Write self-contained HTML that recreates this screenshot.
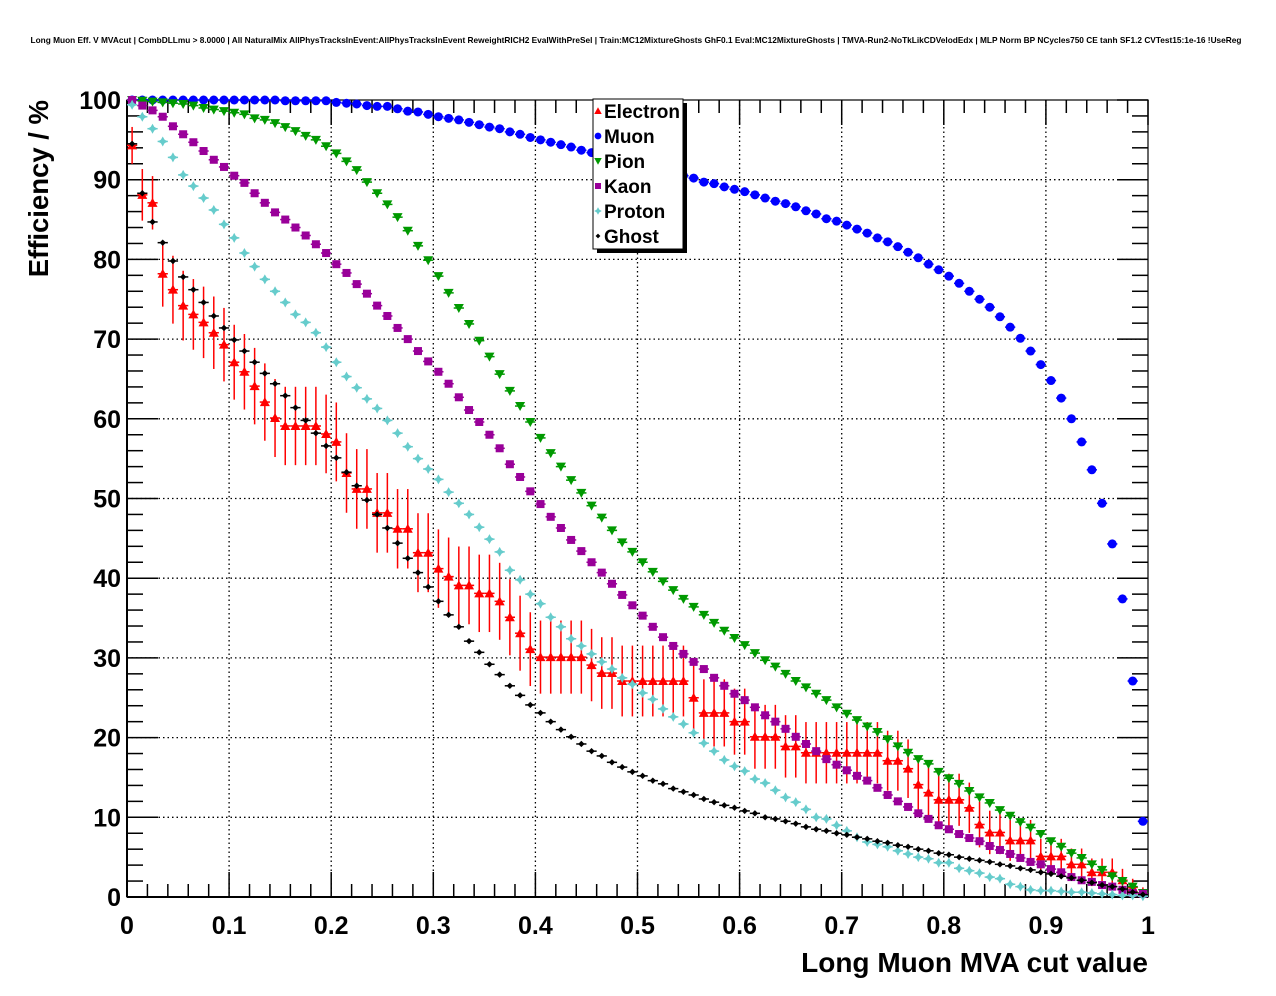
<!DOCTYPE html>
<html><head><meta charset="utf-8">
<style>
html,body{margin:0;padding:0;background:#fff;}
svg{display:block;font-family:"Liberation Sans",Arial,sans-serif;}
</style></head>
<body>
<svg id="chart" width="1276" height="996" viewBox="0 0 1276 996" xmlns="http://www.w3.org/2000/svg">
<rect x="0" y="0" width="1276" height="996" fill="#fff"/>
<text x="636" y="43" font-size="8.3" font-weight="bold" text-anchor="middle">Long Muon Eff. V MVAcut | CombDLLmu &gt; 8.0000 | All NaturalMix AllPhysTracksInEvent:AllPhysTracksInEvent ReweightRICH2 EvalWithPreSel | Train:MC12MixtureGhosts GhF0.1 Eval:MC12MixtureGhosts | TMVA-Run2-NoTkLikCDVelodEdx | MLP Norm BP NCycles750 CE tanh SF1.2 CVTest15:1e-16 !UseReg</text>
<g id="grid"></g>
<g id="axes"></g>
<g id="series"></g>
<g id="legend"></g>
<text x="0" y="0" transform="translate(48,100) rotate(-90)" font-size="27.5" font-weight="bold" text-anchor="end">Efficiency / %</text>
<text x="1148" y="972" font-size="28" font-weight="bold" text-anchor="end">Long Muon MVA cut value</text>
</svg>
<script>
const xTickLabels=["0","0.1","0.2","0.3","0.4","0.5","0.6","0.7","0.8","0.9","1"];
const xTickValues=[0,0.1,0.2,0.3,0.4,0.5,0.6,0.7,0.8,0.9,1];
const yTickLabels=["0","10","20","30","40","50","60","70","80","90","100"];
const yTickValues=[0,10,20,30,40,50,60,70,80,90,100];
const nBins=100;
const binWidth=0.01;
const electronN=100;
const protonN=15000;
const kaonN=20000;
const seriesNames=["Electron","Muon","Pion","Kaon","Proton","Ghost"];
const electron=[94.3,88.1,87.1,78.2,76.2,74.2,73.1,72.1,70.8,69.3,
67.1,65.9,64.1,62.1,60.1,59.1,59.1,59.1,59.1,58.1,
57.1,53.2,51.2,51.2,48.2,48.2,46.2,46.2,43.2,43.2,
41.2,40.2,39.1,39.1,38.1,38.1,37.1,35.1,33.1,31.1,
30.1,30.1,30.1,30.1,30.1,29.1,28.1,28.1,27.1,27.1,
27.1,27.1,27.1,27.1,27.1,25.0,23.1,23.1,23.1,22.0,
22.0,20.1,20.1,20.1,18.9,18.9,18.1,18.1,18.1,18.1,
18.1,18.1,18.1,18.1,17.1,17.1,16.1,14.1,13.1,12.2,
12.2,12.2,11.2,9.1,8.1,8.1,7.1,7.1,7.1,5.1,
5.1,5.1,4.1,4.1,3.1,3.1,3.1,2.1,1.2,0.5];
const muon=[100,100,100,100,100,100,100,100,100,100,
100,100,100,100,100,99.9,99.9,99.9,99.9,99.9,
99.7,99.6,99.5,99.3,99.2,99.2,98.9,98.6,98.5,98.2,
97.9,97.7,97.5,97.2,96.9,96.6,96.4,96.0,95.7,95.3,
95.0,94.7,94.4,94.1,93.7,93.4,93.0,92.7,92.3,92.0,
91.6,91.3,90.9,90.7,90.5,90.2,89.7,89.5,89.1,88.8,
88.5,88.1,87.7,87.3,87.0,86.6,86.1,85.7,85.1,84.8,
84.3,83.8,83.3,82.7,82.2,81.6,80.9,80.2,79.4,78.7,
77.9,77.0,76.0,75.0,74.0,72.8,71.5,70.1,68.5,66.8,
64.8,62.6,60.0,57.1,53.6,49.4,44.3,37.4,27.1,9.5];
const pion=[100,99.9,99.8,99.7,99.6,99.5,99.3,99.0,98.8,98.6,
98.4,98.2,97.7,97.5,97.1,96.6,96.1,95.5,95.0,94.2,
93.3,92.3,91.2,89.7,88.3,86.9,85.3,83.6,81.7,79.9,
77.9,75.8,73.9,71.9,69.8,67.8,65.6,63.5,61.6,59.6,
57.6,55.7,54.0,52.3,50.7,49.1,47.6,46.0,44.5,43.3,
42.0,40.8,39.6,38.5,37.4,36.4,35.4,34.4,33.4,32.5,
31.6,30.6,29.7,28.9,28.0,27.1,26.3,25.5,24.7,23.8,
23.0,22.2,21.4,20.7,19.8,18.9,18.1,17.3,16.7,15.7,
14.9,14.2,13.3,12.5,11.8,10.9,10.2,9.4,8.7,7.9,
7.0,6.3,5.5,4.9,4.1,3.4,2.6,2.0,1.3,0.5];
const kaon=[100,99.3,98.7,97.9,96.7,95.7,94.7,93.6,92.5,91.6,
90.5,89.6,88.3,87.1,85.9,85.0,84.0,83.0,81.9,80.8,
79.4,78.3,76.9,75.7,74.2,72.9,71.4,70.0,68.5,67.2,
65.9,64.4,62.7,61.1,59.6,58.0,56.3,54.3,52.7,50.9,
49.3,47.7,46.3,44.8,43.4,42.0,40.7,39.3,37.9,36.6,
35.3,33.9,32.6,31.5,30.5,29.5,28.6,27.5,26.5,25.5,
24.7,23.8,22.8,22.0,21.1,20.1,19.2,18.3,17.3,16.6,
15.9,15.2,14.6,13.7,12.8,12.0,11.3,10.5,9.8,9.0,
8.5,7.9,7.4,7.0,6.4,5.9,5.4,4.9,4.4,4.1,
3.5,3.1,2.5,2.1,1.9,1.5,1.3,0.9,0.5,0.4];
const proton=[99.4,97.9,96.4,94.8,92.8,90.6,89.2,87.7,86.2,84.4,
82.7,80.8,79.1,77.5,76.0,74.6,73.1,72.1,70.8,69.0,
67.1,65.3,63.9,62.5,61.3,59.8,58.2,56.5,55.0,53.7,
52.4,50.8,49.4,48.0,46.4,44.9,43.3,41.0,39.8,38.0,
36.8,35.1,33.9,32.4,31.5,30.5,29.5,28.6,27.5,26.7,
25.6,24.8,23.6,22.6,21.7,20.6,19.3,18.3,17.2,16.4,
15.8,14.8,14.3,13.4,12.5,11.9,11.0,10.0,9.8,9.0,
8.3,7.5,6.9,6.6,6.3,5.8,5.4,5.0,4.8,4.3,
4.3,3.6,3.3,3.0,2.5,2.3,1.6,1.3,0.9,0.8,
0.8,0.7,0.6,0.6,0.5,0.4,0.3,0.2,0.2,0.1];
const ghost=[94.5,88.3,84.7,82.1,79.8,77.8,76.2,74.6,72.9,71.4,
69.9,68.5,67.1,65.7,64.4,62.9,61.4,59.8,58.2,56.6,
55.1,53.3,51.6,49.8,48.0,46.3,44.4,42.5,40.7,38.9,
37.1,35.4,33.9,32.1,30.7,29.2,27.9,26.5,25.3,24.1,
23.1,22.0,21.0,20.1,19.2,18.3,17.7,16.9,16.3,15.7,
15.2,14.6,14.2,13.6,13.2,12.8,12.3,11.9,11.5,11.2,
10.8,10.5,10.0,9.8,9.5,9.2,8.8,8.5,8.3,8.0,
7.8,7.5,7.3,7.0,6.8,6.5,6.3,6.0,5.8,5.5,
5.3,5.0,4.8,4.6,4.4,4.1,3.9,3.6,3.4,3.1,
2.9,2.6,2.4,2.1,1.8,1.5,1.3,1.0,0.6,0.3];

const NS="http://www.w3.org/2000/svg";
const X0=127,X1=1148,Y0=897,Y1=100;
function xs(v){return X0+v*(X1-X0);}
function ys(v){return Y0-v/100*(Y0-Y1);}
function mk(tag,attrs,parent){const e=document.createElementNS(NS,tag);for(const k in attrs)e.setAttribute(k,attrs[k]);parent.appendChild(e);return e;}

const grid=document.getElementById('grid');
const axes=document.getElementById('axes');
const series=document.getElementById('series');
const legend=document.getElementById('legend');

for(let i=1;i<xTickValues.length-1;i++){
  const l=mk('line',{x1:xs(xTickValues[i]),x2:xs(xTickValues[i]),y1:Y1,y2:Y0,stroke:'#000','stroke-width':1.3,'stroke-dasharray':'1.5,3'},grid);
  
  
}
for(let i=1;i<yTickValues.length-1;i++){
  const l=mk('line',{x1:X0,x2:X1,y1:ys(yTickValues[i]),y2:ys(yTickValues[i]),stroke:'#000','stroke-width':1.3,'stroke-dasharray':'1.5,3'},grid);
  
  
}
const frame=mk('rect',{x:X0,y:Y1,width:X1-X0,height:Y0-Y1,fill:'none',stroke:'#000','stroke-width':1.2},axes);


mk('line',{x1:X0,x2:X0,y1:Y1,y2:Y0,stroke:'#000','stroke-width':2},axes);
mk('line',{x1:X0,x2:X1,y1:Y0,y2:Y0,stroke:'#000','stroke-width':2},axes);
for(let k=0;k<=50;k++){
  const v=k*0.02, x=xs(v), major=(k%5===0);
  const len=major?25:13;
  mk('line',{x1:x,x2:x,y1:Y0,y2:Y0-len,stroke:'#000','stroke-width':1.5},axes);
  mk('line',{x1:x,x2:x,y1:Y1,y2:Y1+len,stroke:'#000','stroke-width':1.5},axes);
}
for(let i=0;i<xTickLabels.length;i++){
  const t=mk('text',{x:xs(xTickValues[i]),y:934,'font-size':25,'font-weight':'bold','text-anchor':'middle'},axes);
  t.textContent=xTickLabels[i];
  
  
}
for(let k=0;k<=50;k++){
  const v=k*2, y=ys(v), major=(k%5===0);
  const len=major?31:16;
  mk('line',{x1:X0,x2:X0+len,y1:y,y2:y,stroke:'#000','stroke-width':1.5},axes);
  mk('line',{x1:X1,x2:X1-len,y1:y,y2:y,stroke:'#000','stroke-width':1.5},axes);
}
for(let i=0;i<yTickLabels.length;i++){
  const t=mk('text',{x:121,y:ys(yTickValues[i])+9,'font-size':25,'font-weight':'bold','text-anchor':'end'},axes);
  t.textContent=yTickLabels[i];
  
  
}

function marker(kind,cx,cy,color,parent,scale){
  const s=scale||1;
  let e;
  if(kind==='circle'){e=mk('circle',{cx:cx,cy:cy,r:4.5*s,fill:color},parent);}
  else if(kind==='tridown'){e=mk('polygon',{points:`${cx-5*s},${cy-4*s} ${cx+5*s},${cy-4*s} ${cx},${cy+5*s}`,fill:color},parent);}
  else if(kind==='triup'){e=mk('polygon',{points:`${cx-5*s},${cy+4*s} ${cx+5*s},${cy+4*s} ${cx},${cy-5*s}`,fill:color},parent);}
  else if(kind==='square'){e=mk('rect',{x:cx-4*s,y:cy-4*s,width:8*s,height:8*s,fill:color},parent);}
  else if(kind==='cross'){const a=5*s,b=1.8*s;e=mk('polygon',{points:`${cx-a},${cy} ${cx-b},${cy-b} ${cx},${cy-a} ${cx+b},${cy-b} ${cx+a},${cy} ${cx+b},${cy+b} ${cx},${cy+a} ${cx-b},${cy+b}`,fill:color},parent);}
  else {const a=3.2*s;e=mk('polygon',{points:`${cx-a},${cy} ${cx},${cy-a} ${cx+a},${cy} ${cx},${cy+a}`,fill:color},parent);}
  return e;
}

const seriesDefs=[
  {name:'electron',vals:electron,color:'#ff0000',kind:'triup',N:electronN},
  {name:'muon',vals:muon,color:'#0000ff',kind:'circle',N:0},
  {name:'pion',vals:pion,color:'#009900',kind:'tridown',N:0},
  {name:'kaon',vals:kaon,color:'#990099',kind:'square',N:kaonN},
  {name:'proton',vals:proton,color:'#66cccc',kind:'cross',N:protonN},
  {name:'ghost',vals:ghost,color:'#000000',kind:'diamond',N:0}
];
seriesDefs.forEach(sd=>{
  const g=mk('g',{},series);
  
  
  for(let i=0;i<nBins;i++){
    const v=sd.vals[i];
    const xc=(i+0.5)*binWidth;
    const cx=xs(xc), cy=ys(v);
    const hw=xs(binWidth/2)-xs(0);
    mk('line',{x1:cx-hw,x2:cx+hw,y1:cy,y2:cy,stroke:sd.color,'stroke-width':1.5},g);
    if(sd.N>0){
      const p=v/100;
      const err=Math.sqrt(Math.max(p*(1-p),0)/sd.N)*100;
      mk('line',{x1:cx,x2:cx,y1:ys(v+err),y2:ys(Math.max(v-err,0)),stroke:sd.color,'stroke-width':1.5},g);
    }
    const m=marker(sd.kind,cx,cy,sd.color,g);
    
    
  }
});

const lx=593,ly=99,lw=90,lh=150;
mk('rect',{x:lx+4,y:ly+4,width:lw,height:lh,fill:'#000'},legend);
const lb=mk('rect',{x:lx,y:ly,width:lw,height:lh,fill:'#fff',stroke:'#000','stroke-width':1},legend);


seriesDefs.forEach((sd,i)=>{
  const y=ly+12+i*25;
  const g=mk('g',{},legend);
  
  
  marker(sd.kind,lx+5,y,sd.color,g,0.75);
  const t=mk('text',{x:lx+11,y:y+7,'font-size':19,'font-weight':'bold'},g);
  t.textContent=seriesNames[i];
});
</script>
</body></html>
